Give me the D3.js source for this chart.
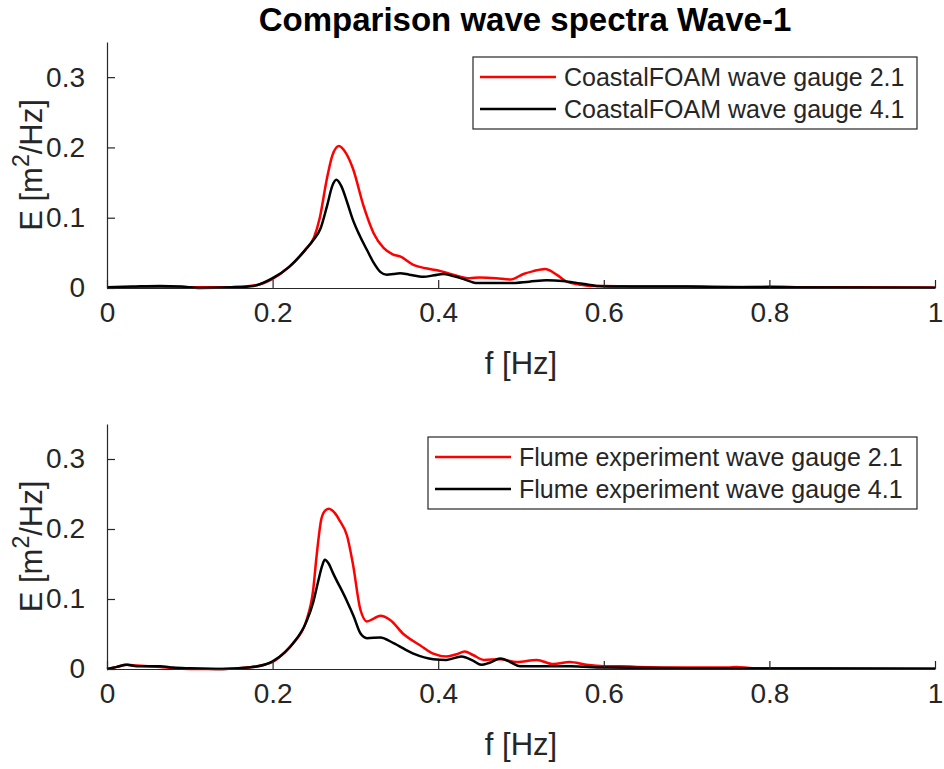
<!DOCTYPE html>
<html>
<head>
<meta charset="utf-8">
<script src="https://cdn.jsdelivr.net/npm/d3@7"></script>
<style>
  html, body { margin: 0; padding: 0; background: #fff; }
  svg { display: block; }
  text { font-family: "Liberation Sans", Arial, Helvetica, sans-serif; fill: #262626; }
</style>
</head>
<body>
<svg id="chart" width="944" height="769"></svg>
<script>
// ---------- data ----------
const titleText = "Comparison wave spectra Wave-1";
const xTicks = [0, 0.2, 0.4, 0.6, 0.8, 1];
const yTicks = [0, 0.1, 0.2, 0.3];
const xLabel = "f [Hz]";

const topLegend = ["CoastalFOAM wave gauge 2.1", "CoastalFOAM wave gauge 4.1"];
const bottomLegend = ["Flume experiment wave gauge 2.1", "Flume experiment wave gauge 4.1"];

// Top panel: CoastalFOAM
const topRedF = [0, 0.05, 0.1, 0.15, 0.18, 0.2, 0.22, 0.24, 0.25, 0.257, 0.265, 0.272, 0.28, 0.288, 0.297, 0.31, 0.322, 0.334, 0.345, 0.354, 0.37, 0.385, 0.4, 0.418, 0.438, 0.45, 0.47, 0.487, 0.503, 0.515, 0.529, 0.543, 0.555, 0.57, 0.583, 0.6, 0.65, 0.7, 0.75, 0.8, 0.85, 0.9, 1.0];
const topRedE = [0.001, 0.001, 0.001, 0.001, 0.004, 0.013, 0.030, 0.055, 0.072, 0.100, 0.152, 0.188, 0.202, 0.193, 0.170, 0.116, 0.078, 0.057, 0.048, 0.045, 0.033, 0.028, 0.025, 0.019, 0.014, 0.015, 0.014, 0.012, 0.020, 0.024, 0.027, 0.019, 0.009, 0.005, 0.003, 0.003, 0.002, 0.002, 0.001, 0.002, 0.001, 0.001, 0.0005];

const topBlackF = [0, 0.03, 0.064, 0.09, 0.112, 0.15, 0.177, 0.2, 0.22, 0.24, 0.249, 0.258, 0.266, 0.272, 0.277, 0.283, 0.29, 0.297, 0.305, 0.314, 0.322, 0.33, 0.338, 0.346, 0.354, 0.365, 0.382, 0.395, 0.406, 0.418, 0.43, 0.447, 0.47, 0.487, 0.51, 0.531, 0.55, 0.563, 0.58, 0.591, 0.62, 0.7, 0.8, 1.0];
const topBlackE = [0.001, 0.002, 0.003, 0.002, 0.0, 0.001, 0.003, 0.014, 0.030, 0.055, 0.068, 0.085, 0.118, 0.145, 0.154, 0.145, 0.122, 0.097, 0.075, 0.054, 0.036, 0.023, 0.019, 0.020, 0.021, 0.019, 0.016, 0.018, 0.020, 0.017, 0.013, 0.007, 0.007, 0.007, 0.009, 0.011, 0.010, 0.008, 0.005, 0.003, 0.002, 0.002, 0.001, 0.0005];

// Bottom panel: flume experiment
const botRedF = [0, 0.012, 0.024, 0.036, 0.05, 0.064, 0.08, 0.1, 0.14, 0.17, 0.19, 0.2, 0.215, 0.225, 0.241, 0.249, 0.253, 0.259, 0.264, 0.268, 0.275, 0.281, 0.29, 0.297, 0.306, 0.314, 0.322, 0.33, 0.342, 0.358, 0.378, 0.394, 0.41, 0.422, 0.432, 0.442, 0.455, 0.475, 0.495, 0.519, 0.539, 0.559, 0.579, 0.6, 0.62, 0.64, 0.7, 0.75, 0.76, 0.78, 0.85, 1.0];
const botRedE = [0.0, 0.003, 0.006, 0.005, 0.004, 0.003, 0.001, 0.0, 0.0, 0.002, 0.006, 0.010, 0.024, 0.037, 0.070, 0.113, 0.160, 0.215, 0.227, 0.229, 0.223, 0.212, 0.190, 0.150, 0.085, 0.068, 0.072, 0.076, 0.070, 0.050, 0.034, 0.022, 0.018, 0.021, 0.025, 0.020, 0.013, 0.014, 0.010, 0.013, 0.007, 0.010, 0.006, 0.004, 0.004, 0.003, 0.002, 0.002, 0.003, 0.001, 0.001, 0.0005];

const botBlackF = [0, 0.012, 0.024, 0.036, 0.05, 0.064, 0.08, 0.1, 0.14, 0.17, 0.19, 0.2, 0.215, 0.225, 0.241, 0.249, 0.255, 0.26, 0.263, 0.268, 0.273, 0.289, 0.298, 0.306, 0.314, 0.33, 0.346, 0.37, 0.394, 0.41, 0.428, 0.442, 0.452, 0.462, 0.475, 0.487, 0.499, 0.53, 0.56, 0.6, 0.7, 1.0];
const botBlackE = [0.0, 0.003, 0.006, 0.004, 0.004, 0.004, 0.002, 0.001, 0.0, 0.002, 0.006, 0.011, 0.024, 0.037, 0.068, 0.095, 0.125, 0.148, 0.156, 0.150, 0.137, 0.099, 0.075, 0.051, 0.044, 0.045, 0.037, 0.022, 0.014, 0.013, 0.018, 0.012, 0.006, 0.009, 0.015, 0.010, 0.004, 0.004, 0.004, 0.002, 0.001, 0.0005];

// ---------- drawing ----------
const svg = d3.select("#chart");
const axisColor = "#262626";
const left = 107, right = 935;

svg.append("text")
  .attr("x", 525).attr("y", 31)
  .attr("text-anchor", "middle")
  .style("font-size", "33px").style("font-weight", "bold")
  .style("fill", "#000")
  .text(titleText);

function panel(top, bottom, series, legendLabels, legendBox) {
  const x = d3.scaleLinear().domain([0, 1]).range([left, right]);
  const y = d3.scaleLinear().domain([0, 0.35]).range([bottom, top]);
  const g = svg.append("g");

  // lines
  const line = d3.line()
    .x(d => x(d[0])).y(d => y(Math.max(0, d[1])))
    .curve(d3.curveMonotoneX);
  series.forEach(s => {
    const pts = s.f.map((v, i) => [v, s.e[i]]);
    g.append("path").datum(pts)
      .attr("d", line)
      .attr("fill", "none")
      .attr("stroke", s.color)
      .attr("stroke-width", 2.5)
      .attr("stroke-linejoin", "round");
  });

  // x axis
  const xAxis = d3.axisBottom(x).tickValues(xTicks)
    .tickFormat(d => d3.format("~g")(d))
    .tickSizeInner(-8).tickSizeOuter(0).tickPadding(14);
  const gx = g.append("g").attr("transform", `translate(0,${bottom})`).call(xAxis);
  gx.select(".domain").attr("stroke", axisColor).attr("stroke-width", 1.2);
  gx.selectAll(".tick line").attr("stroke", axisColor).attr("stroke-width", 1.2);
  gx.selectAll(".tick text").style("font-size", "28px").style("fill", axisColor)
    .attr("font-family", null).attr("dy", "0.72em");

  // y axis
  const yAxis = d3.axisLeft(y).tickValues(yTicks)
    .tickFormat(d => d3.format("~g")(d))
    .tickSizeInner(-8).tickSizeOuter(0).tickPadding(22);
  const gy = g.append("g").attr("transform", `translate(${left},0)`).call(yAxis);
  gy.select(".domain").attr("stroke", axisColor).attr("stroke-width", 1.2);
  gy.selectAll(".tick line").attr("stroke", axisColor).attr("stroke-width", 1.2);
  gy.selectAll(".tick text").style("font-size", "28px").style("fill", axisColor)
    .attr("font-family", null);

  // axis labels
  g.append("text")
    .attr("x", (left + right) / 2).attr("y", bottom + 86)
    .attr("text-anchor", "middle")
    .style("font-size", "31px")
    .text(xLabel);

  const yl = g.append("text")
    .attr("transform", `translate(42,${(top + bottom) / 2}) rotate(-90)`)
    .attr("text-anchor", "middle")
    .style("font-size", "31px");
  yl.append("tspan").text("E [m");
  yl.append("tspan").attr("baseline-shift", "super").style("font-size", "23px").text("2");
  yl.append("tspan").text("/Hz]");

  // legend
  const lb = legendBox;
  const lg = g.append("g");
  lg.append("rect")
    .attr("x", lb.x).attr("y", lb.y).attr("width", lb.w).attr("height", lb.h)
    .attr("fill", "#fff").attr("stroke", axisColor).attr("stroke-width", 1.2);
  legendLabels.forEach((lab, i) => {
    const cy = lb.y + 20 + i * 32;
    lg.append("line")
      .attr("x1", lb.x + 7).attr("x2", lb.x + 83)
      .attr("y1", cy).attr("y2", cy)
      .attr("stroke", series[i].color).attr("stroke-width", 2.5);
    lg.append("text")
      .attr("x", lb.x + 91).attr("y", cy)
      .attr("dy", "0.36em")
      .style("font-size", "25px")
      .text(lab);
  });
}

panel(42, 288,
  [{ f: topRedF, e: topRedE, color: "#ff0000" }, { f: topBlackF, e: topBlackE, color: "#000000" }],
  topLegend, { x: 473, y: 57, w: 444, h: 72 });

panel(424, 669,
  [{ f: botRedF, e: botRedE, color: "#ff0000" }, { f: botBlackF, e: botBlackE, color: "#000000" }],
  bottomLegend, { x: 428, y: 437, w: 489, h: 72 });
</script>
</body>
</html>
